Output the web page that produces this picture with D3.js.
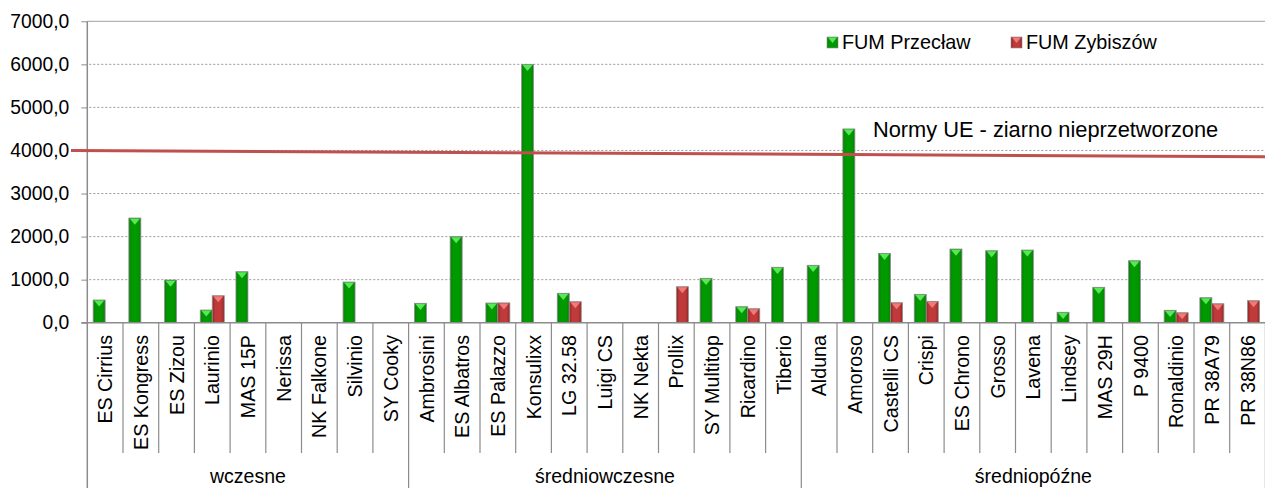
<!DOCTYPE html>
<html>
<head>
<meta charset="utf-8">
<script src="https://cdn.jsdelivr.net/npm/d3@7"></script>
<style>
  body { margin: 0; background: white; }
  text { font-family: "Liberation Sans", Arial, sans-serif; fill: #000; }
</style>
</head>
<body>
<div id="chart"></div>
<script>

var categories = ["ES Cirrius", "ES Kongress", "ES Zizou", "Laurinio", "MAS 15P", "Nerissa", "NK Falkone", "Silvinio", "SY Cooky",
  "Ambrosini", "ES Albatros", "ES Palazzo", "Konsulixx", "LG 32.58", "Luigi CS", "NK Nekta", "Prollix", "SY Multitop", "Ricardino", "Tiberio",
  "Alduna", "Amoroso", "Castelli CS", "Crispi", "ES Chrono", "Grosso", "Lavena", "Lindsey", "MAS 29H", "P 9400", "Ronaldinio", "PR 38A79", "PR 38N86"];

var groups = ["wczesne", "średniowczesne", "średniopóźne"];
var groupSizes = [9, 11, 13];

var seriesNames = ["FUM Przecław", "FUM Zybiszów"];

var przeclaw = [527, 2431, 991, 295, 1185, null, null, 945, null,
  450, 2000, 457, 6000, 683, null, null, null, 1031, 372, 1287,
  1333, 4500, 1611, 659, 1711, 1672, 1688, 242, 822, 1440, 288, 581, null];

var zybiszow = [null, null, null, 627, null, null, null, null, null,
  null, null, 460, null, 488, null, null, 836, null, 325, null,
  null, null, 465, 496, null, null, null, null, null, null, 232, 441, 511];

var yTicks = [0, 1000, 2000, 3000, 4000, 5000, 6000, 7000];

// EU norm line, value at the left and right ends (it is drawn slightly sloped)
var normLine = [4000, 3855];
var normLabel = "Normy UE - ziarno nieprzetworzone";


function drawChart() {
  var width = 1265, height = 488;
  var plotLeft = 87.3, plotRight = 1265.4, plotTop = 21.3, plotBottom = 322.7;

  var svg = d3.select("#chart").append("svg")
    .attr("width", width).attr("height", height);

  var defs = svg.append("defs");

  function addGradient(id, edge, mid) {
    var g = defs.append("linearGradient").attr("id", id)
      .attr("x1", "0%").attr("x2", "100%").attr("y1", "0%").attr("y2", "0%");
    g.append("stop").attr("offset", "0%").attr("stop-color", edge);
    g.append("stop").attr("offset", "25%").attr("stop-color", mid);
    g.append("stop").attr("offset", "75%").attr("stop-color", mid);
    g.append("stop").attr("offset", "100%").attr("stop-color", edge);
  }
  addGradient("gradGreen", "#0b7d0b", "#009a00");
  addGradient("gradRed", "#8e2626", "#c03a3a");

  var colors = [
    { fill: "url(#gradGreen)", light: "#57e857" },
    { fill: "url(#gradRed)", light: "#ee7a7a" }
  ];

  var x = d3.scaleBand().domain(categories).range([plotLeft, plotRight]).padding(0);
  var xSub = d3.scaleBand().domain(seriesNames).range([0, x.bandwidth()]).paddingInner(0).paddingOuter(0.4875);
  var y = d3.scaleLinear().domain([0, 7000]).range([plotBottom, plotTop]);

  var fmt = function(d) { return d3.format(".1f")(d).replace(".", ","); };

  // gridlines
  svg.append("g").selectAll("line")
    .data(yTicks.filter(function(d) { return d > 0 && d < 7000; }))
    .join("line")
    .attr("x1", plotLeft + 2).attr("x2", plotRight)
    .attr("y1", function(d) { return y(d); }).attr("y2", function(d) { return y(d); })
    .attr("stroke", "#9a9a9a").attr("stroke-width", 1).attr("stroke-dasharray", "2,2");

  svg.append("line")
    .attr("x1", plotLeft).attr("x2", plotRight).attr("y1", y(7000)).attr("y2", y(7000))
    .attr("stroke", "#a0a0a0").attr("stroke-width", 1);

  // y axis
  var yAxis = svg.append("g").attr("transform", "translate(" + plotLeft + ",0)")
    .call(d3.axisLeft(y).tickValues(yTicks).tickFormat(fmt).tickSize(6).tickPadding(12));
  yAxis.select(".domain").remove();
  yAxis.selectAll(".tick line").attr("stroke", "#8c8c8c");
  yAxis.selectAll(".tick text").style("font-size", "19.3px").style("font-family", "Liberation Sans, Arial, sans-serif").attr("fill", "#000");

  svg.append("line")
    .attr("x1", plotLeft).attr("x2", plotLeft).attr("y1", plotTop).attr("y2", height)
    .attr("stroke", "#8c8c8c").attr("stroke-width", 1.5);

  // bars
  var series = [przeclaw, zybiszow];
  series.forEach(function(values, si) {
    var data = categories.map(function(c, i) { return { cat: c, value: values[i] }; })
      .filter(function(d) { return d.value != null; });
    var g = svg.append("g");
    var bars = g.selectAll("g").data(data).join("g")
      .attr("transform", function(d) { return "translate(" + (x(d.cat) + xSub(seriesNames[si])) + ",0)"; });
    var w = xSub.bandwidth();
    bars.append("rect")
      .attr("x", 0).attr("width", w)
      .attr("y", function(d) { return y(d.value); })
      .attr("height", function(d) { return plotBottom - y(d.value); })
      .attr("fill", colors[si].fill)
      .attr("stroke", "#8f8f8f").attr("stroke-width", 0.8);
    bars.append("path")
      .attr("d", function(d) {
        var t = y(d.value) + 0.6;
        var h = Math.min(6, plotBottom - t);
        return "M1," + t + "L" + (w - 1) + "," + t + "L" + (w / 2) + "," + (t + h) + "Z";
      })
      .attr("fill", colors[si].light);
  });

  // category axis
  svg.append("line")
    .attr("x1", plotLeft - 6).attr("x2", plotRight).attr("y1", plotBottom).attr("y2", plotBottom)
    .attr("stroke", "#8c8c8c").attr("stroke-width", 1.5);

  var groupEdges = [0];
  groupSizes.forEach(function(n, i) { groupEdges.push(groupEdges[i] + n); });

  svg.append("g").selectAll("line")
    .data(d3.range(1, categories.length + 1))
    .join("line")
    .attr("x1", function(i) { return plotLeft + i * x.step(); })
    .attr("x2", function(i) { return plotLeft + i * x.step(); })
    .attr("y1", plotBottom)
    .attr("y2", function(i) { return groupEdges.indexOf(i) >= 0 ? height : 453; })
    .attr("stroke", "#8c8c8c").attr("stroke-width", 1.2);

  svg.append("g").selectAll("text")
    .data(categories)
    .join("text")
    .attr("transform", function(d) { return "translate(" + (x(d) + x.bandwidth() / 2) + ",335) rotate(-90)"; })
    .attr("text-anchor", "end").attr("dy", "0.36em")
    .style("font-size", "19.7px")
    .text(function(d) { return d; });

  svg.append("g").selectAll("text")
    .data(groups)
    .join("text")
    .attr("x", function(d, i) { return plotLeft + (groupEdges[i] + groupEdges[i + 1]) / 2 * x.step(); })
    .attr("y", 483)
    .attr("text-anchor", "middle")
    .style("font-size", "19.5px")
    .text(function(d) { return d; });

  // norm line
  svg.append("line")
    .attr("x1", 71).attr("x2", width)
    .attr("y1", y(normLine[0])).attr("y2", y(normLine[1]))
    .attr("stroke", "#c0504d").attr("stroke-width", 3);

  svg.append("text")
    .attr("x", 873).attr("y", 136.5)
    .style("font-size", "21.8px")
    .text(normLabel);

  // legend
  var legendX = [827, 1011];
  var legend = svg.append("g").selectAll("g").data(seriesNames).join("g")
    .attr("transform", function(d, i) { return "translate(" + legendX[i] + ",37)"; });
  legend.append("rect")
    .attr("width", 11).attr("height", 11)
    .attr("fill", function(d, i) { return colors[i].fill; })
    .attr("stroke", "#8f8f8f").attr("stroke-width", 0.6);
  legend.append("path")
    .attr("d", "M1,0.6L10,0.6L5.5,6Z")
    .attr("fill", function(d, i) { return colors[i].light; });
  legend.append("text")
    .attr("x", 15).attr("y", 11.5)
    .style("font-size", "19.8px")
    .text(function(d) { return d; });
}

drawChart();

</script>
</body>
</html>
